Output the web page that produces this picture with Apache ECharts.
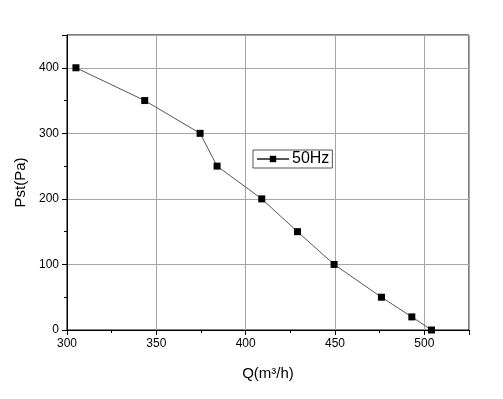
<!DOCTYPE html>
<html>
<head>
<meta charset="utf-8">
<script src="https://cdn.jsdelivr.net/npm/echarts@6/dist/echarts.min.js"></script>
<style>html,body{margin:0;padding:0;background:#fff;}#c{width:503px;height:399px;}</style>
</head>
<body>
<div id="c"></div>
<script>
const seriesName = '50Hz';
const qValues = [305, 343.5, 374.5, 384, 409, 429, 449.5, 476, 493, 504];
const pValues = [400, 350, 300, 250, 200, 150, 100, 50, 20, 0];
const xTicks = [300, 350, 400, 450, 500];
const yTicks = [0, 100, 200, 300, 400];

const font = 'Liberation Sans, Arial, sans-serif';
const chart = echarts.init(document.getElementById('c'), null, {renderer: 'canvas'});
const data = qValues.map((q, i) => [q, pValues[i]]);
chart.setOption({
  animation: false,
  backgroundColor: '#fff',
  grid: {left: 67, top: 35, right: 34, bottom: 69, show: true, borderColor: '#000', borderWidth: 1, backgroundColor: 'transparent'},
  legend: {
    left: 253, top: 150, orient: 'horizontal',
    backgroundColor: '#fff', borderColor: '#555', borderWidth: 1, borderRadius: 0,
    padding: [1, 3, 1, 3], itemWidth: 32, itemHeight: 8, itemGap: 4,
    textStyle: {fontFamily: font, fontSize: 16, color: '#000', padding: [0, 0, 0, -2]},
    data: [{name: seriesName}]
  },
  xAxis: {
    type: 'value', min: 300, max: 525, interval: 50,
    name: 'Q(m³/h)', nameLocation: 'middle', nameGap: 36,
    nameTextStyle: {fontFamily: font, fontSize: 15, color: '#000'},
    axisLine: {show: true, lineStyle: {color: '#000', width: 1}},
    axisTick: {show: true, inside: false, length: 5, lineStyle: {color: '#000'}},
    minorTick: {show: true, splitNumber: 2, length: 3, lineStyle: {color: '#000'}},
    axisLabel: {fontFamily: font, fontSize: 12, color: '#000', margin: 8,
      formatter: v => xTicks.includes(v) ? String(v) : ''},
    splitLine: {show: true, lineStyle: {color: '#a6a6a6', width: 1}}
  },
  yAxis: {
    type: 'value', min: 0, max: 450, interval: 100,
    name: 'Pst(Pa)', nameLocation: 'middle', nameGap: 39, nameRotate: 90,
    nameTextStyle: {fontFamily: font, fontSize: 15, color: '#000'},
    axisLine: {show: true, lineStyle: {color: '#000', width: 1}},
    axisTick: {show: true, inside: false, length: 5, lineStyle: {color: '#000'}},
    minorTick: {show: true, splitNumber: 2, length: 3, lineStyle: {color: '#000'}},
    axisLabel: {fontFamily: font, fontSize: 12, color: '#000', margin: 8,
      formatter: v => yTicks.includes(v) ? String(v) : ''},
    splitLine: {show: true, lineStyle: {color: '#a6a6a6', width: 1}}
  },
  series: [{
    name: seriesName, type: 'line', data: data,
    symbol: 'rect', symbolSize: 7,
    itemStyle: {color: '#000'},
    lineStyle: {color: '#555', width: 1},
    z: 3
  }]
});
</script>
</body>
</html>
